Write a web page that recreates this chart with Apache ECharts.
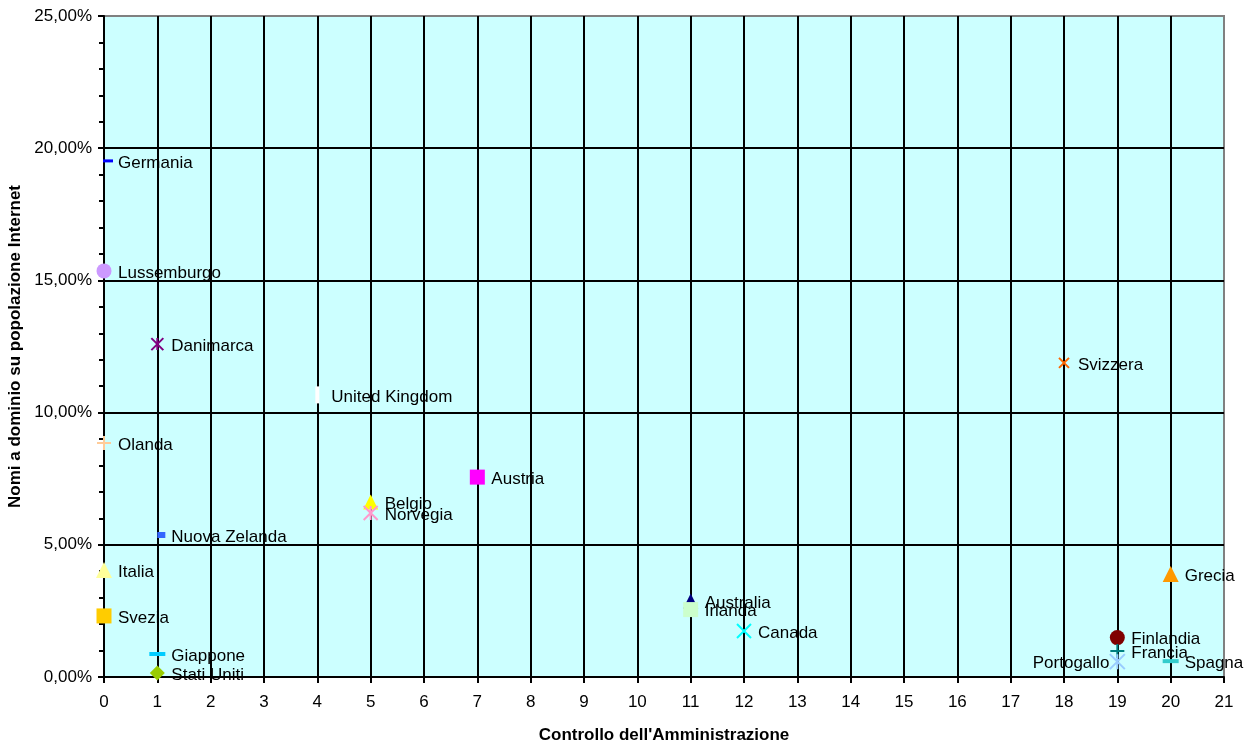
<!DOCTYPE html>
<html>
<head>
<meta charset="utf-8">
<title>Nomi a dominio e controllo dell'Amministrazione</title>
<script src="https://cdn.jsdelivr.net/npm/echarts@6/dist/echarts.min.js"></script>
<style>
  html, body { margin: 0; padding: 0; background: #ffffff; }
  #chart { width: 1260px; height: 744px; }
</style>
</head>
<body>
<div id="chart"></div>
<script>
// Paesi, punteggio di controllo e quota di nomi a dominio (%)
const countries = [
  'Germania', 'Lussemburgo', 'Danimarca', 'United Kingdom', 'Olanda',
  'Austria', 'Belgio', 'Norvegia', 'Nuova Zelanda', 'Italia', 'Svezia',
  'Giappone', 'Stati Uniti', 'Australia', 'Irlanda', 'Canada', 'Svizzera',
  'Grecia', 'Finlandia', 'Francia', 'Portogallo', 'Spagna'
];
const control = [0, 0, 1, 4, 0, 7, 5, 5, 1, 0, 0, 1, 1, 11, 11, 12, 18, 20, 19, 19, 19, 20];
const share = [19.52, 15.36, 12.59, 10.67, 8.85, 7.56, 6.62, 6.20, 5.37, 4.05, 2.31,
               0.87, 0.15, 2.87, 2.55, 1.74, 11.88, 3.90, 1.49, 0.98, 0.58, 0.60];
const xTicks = { min: 0, max: 21, step: 1 };
const yTicks = { min: 0, max: 25, step: 5 };

// Marker shapes
const STAR = 'path://M0,0L12,12M12,0L0,12M6,0L6,12';
const CROSS = 'path://M0,0L10,10M10,0L0,10';
const PLUS = 'path://M5,0L5,10M0,5L10,5';

// Marker style for each country
const markerStyle = {
  'Germania':       { symbol: 'rect', size: [10, 3], color: '#0000FF', offset: [4, 0] },
  'Lussemburgo':    { symbol: 'circle', size: 15, color: '#CC99FF' },
  'Danimarca':      { symbol: STAR, size: 12, color: '#800080', stroke: 2 },
  'United Kingdom': { symbol: 'rect', size: [4, 17], color: '#FFFFFF' },
  'Olanda':         { symbol: PLUS, size: 14, color: '#FFCC99', stroke: 2 },
  'Austria':        { symbol: 'rect', size: 15, color: '#FF00FF' },
  'Belgio':         { symbol: 'triangle', size: 15, color: '#FFFF00' },
  'Norvegia':       { symbol: STAR, size: 14, color: '#FF99CC', stroke: 2 },
  'Nuova Zelanda':  { symbol: 'rect', size: [8, 6], color: '#3366FF', offset: [4, 0] },
  'Italia':         { symbol: 'triangle', size: 16, color: '#FFFF99' },
  'Svezia':         { symbol: 'rect', size: 15, color: '#FFCC00' },
  'Giappone':       { symbol: 'rect', size: [16, 4], color: '#00CCFF' },
  'Stati Uniti':    { symbol: 'diamond', size: 15, color: '#99CC00' },
  'Australia':      { symbol: 'triangle', size: 15, color: '#000080' },
  'Irlanda':        { symbol: 'rect', size: 15, color: '#CCFFCC' },
  'Canada':         { symbol: CROSS, size: 14, color: '#00FFFF', stroke: 2 },
  'Svizzera':       { symbol: CROSS, size: 10, color: '#FF6600', stroke: 2 },
  'Grecia':         { symbol: 'triangle', size: 16, color: '#FF9900' },
  'Finlandia':      { symbol: 'circle', size: 15, color: '#800000' },
  'Francia':        { symbol: PLUS, size: 14, color: '#008080', stroke: 2 },
  'Portogallo':     { symbol: STAR, size: 15, color: '#99CCFF', stroke: 2, labelLeft: true },
  'Spagna':         { symbol: 'rect', size: [16, 4], color: '#33CCCC' }
};

const FONT = "'Liberation Sans', Arial, sans-serif";

const series = countries.map(function (name, i) {
  const st = markerStyle[name];
  const shift = st.offset ? st.offset[0] : 0;
  return {
    name: name,
    type: 'scatter',
    symbol: st.symbol,
    symbolSize: st.size,
    symbolOffset: st.offset || [0, 0],
    itemStyle: {
      color: st.stroke ? 'transparent' : st.color,
      borderColor: st.color,
      borderWidth: st.stroke || 0,
      opacity: 1
    },
    label: {
      show: true,
      formatter: name,
      position: 'inside',
      align: st.labelLeft ? 'right' : 'left',
      verticalAlign: 'middle',
      offset: st.labelLeft ? [-8, 2] : [14 - shift, 2],
      color: '#000000',
      textBorderWidth: 0,
      fontFamily: FONT,
      fontSize: 17
    },
    emphasis: { disabled: true },
    data: [[control[i], share[i]]]
  };
});

const chart = echarts.init(document.getElementById('chart'), null, { renderer: 'canvas' });
chart.setOption({
  animation: false,
  backgroundColor: '#FFFFFF',
  textStyle: { fontFamily: FONT },
  grid: {
    left: 104, right: 36, top: 16, bottom: 67,
    outerBoundsMode: 'none',
    containLabel: false,
    show: true,
    backgroundColor: '#CCFFFF',
    borderColor: '#808080',
    borderWidth: 2
  },
  xAxis: {
    type: 'value',
    min: xTicks.min, max: xTicks.max, interval: xTicks.step,
    name: "Controllo dell'Amministrazione",
    nameLocation: 'middle',
    nameGap: 50,
    nameTextStyle: { fontFamily: FONT, fontSize: 17, fontWeight: 'bold', color: '#000' },
    axisLine: { show: true, lineStyle: { color: '#000', width: 2 } },
    axisTick: { show: true, inside: false, length: 6, lineStyle: { color: '#000', width: 2 } },
    axisLabel: { color: '#000', fontFamily: FONT, fontSize: 17, margin: 17 },
    splitLine: { show: true, showMinLine: false, showMaxLine: false, lineStyle: { color: '#000', width: 2 } }
  },
  yAxis: {
    type: 'value',
    min: yTicks.min, max: yTicks.max, interval: yTicks.step,
    name: 'Nomi a dominio su popolazione Internet',
    nameLocation: 'middle',
    nameGap: 78,
    nameTextStyle: { fontFamily: FONT, fontSize: 17, fontWeight: 'bold', color: '#000' },
    axisLine: { show: true, lineStyle: { color: '#000', width: 2 } },
    axisTick: { show: true, inside: false, length: 6, lineStyle: { color: '#000', width: 2 } },
    minorTick: { show: true, splitNumber: 5, length: 5, lineStyle: { color: '#000', width: 2 } },
    axisLabel: {
      color: '#000', fontFamily: FONT, fontSize: 17, margin: 12,
      formatter: function (v) { return v.toFixed(2).replace('.', ',') + '%'; }
    },
    splitLine: { show: true, showMinLine: false, showMaxLine: false, lineStyle: { color: '#000', width: 2 } }
  },
  series: series
});
</script>
</body>
</html>
